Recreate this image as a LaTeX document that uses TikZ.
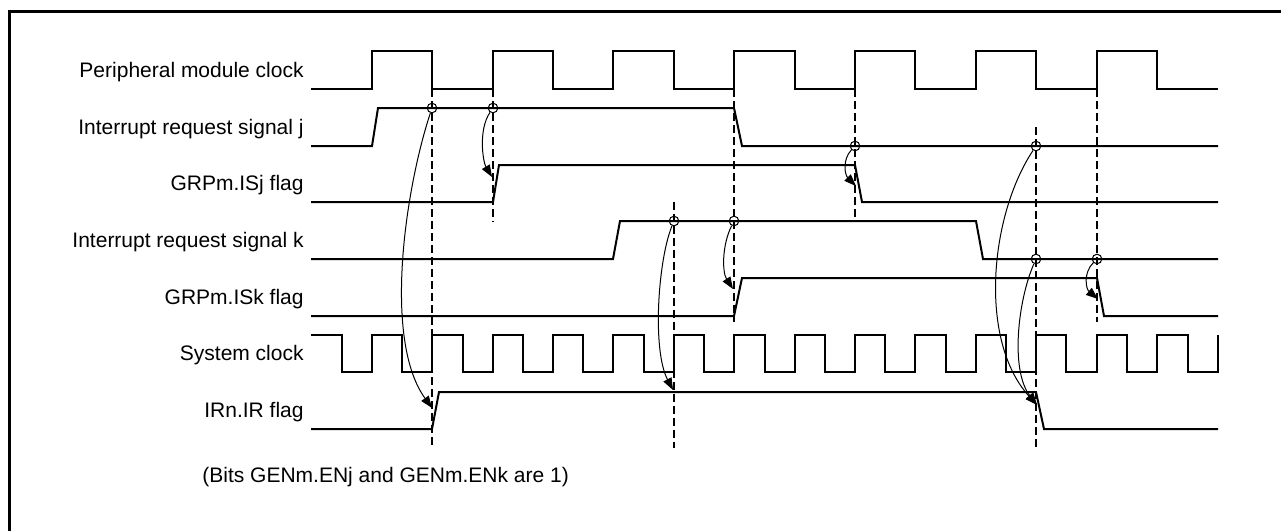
\documentclass[tikz,border=0pt]{standalone}
\usepackage{fontspec}
\setmainfont{Liberation Sans}
\usepackage{tikz}
\usetikzlibrary{arrows.meta,calc}
\tikzset{
  edgeline/.style={line width=1.5pt, line join=miter},
  sig/.style={line width=1pt, line join=miter},
  guide/.style={line width=1.1pt, dash pattern=on 4pt off 2pt},
  ring/.style={circle, draw, line width=0.5pt, minimum size=4.8pt, inner sep=0pt},
  cause/.style={line width=0.5pt, -{Triangle[length=6pt,width=4.5pt]}},
  lbl/.style={anchor=base east, inner sep=0pt, font=\fontsize{10.5}{12.6}\selectfont},
  note/.style={anchor=base west, inner sep=0pt, font=\fontsize{10.5}{12.6}\selectfont},
}

\begin{document}
\begin{tikzpicture}[x=0.5pt, y=-0.5pt]
    \useasboundingbox (0,0) rectangle (1281,531);
    \draw[edgeline] (9.5,531) -- (9.5,11.3) -- (1281,11.3);

    % signal names
    \node[lbl] (pclk) at (304,77)  {Peripheral module clock};
    \node[lbl] (irqj) at (304,134) {Interrupt request signal j};
    \node[lbl] (isj)  at (304,190) {GRPm.ISj flag};
    \node[lbl] (irqk) at (304,247) {Interrupt request signal k};
    \node[lbl] (isk)  at (304,304) {GRPm.ISk flag};
    \node[lbl] (sclk) at (304,360) {System clock};
    \node[lbl] (irf)  at (304,417) {IRn.IR flag};
    \node[note] (bits) at (202,482) {(Bits GENm.ENj and GENm.ENk are 1)};

    % waveforms
    \draw[sig] (311,89) -| (372,51) -| (432,89) -| (493,51) -| (553,89) -| (613,51) -| (674,89) -| (734,51)
      -| (795,89) -| (855,51) -| (915,89) -| (976,51) -| (1036,89) -| (1097,51) -| (1157,89) -- (1218,89);
    \draw[sig] (311,146) -- (372,146) -- (378,108) -- (734,108) -- (742,146) -- (1218,146);
    \draw[sig] (311,202) -- (493,202) -- (499,165) -- (855,165) -- (862,202) -- (1218,202);
    \draw[sig] (311,259) -- (613,259) -- (620,221) -- (976,221) -- (983,259) -- (1218,259);
    \draw[sig] (311,316) -- (734,316) -- (742,278) -- (1097,278) -- (1104,316) -- (1218,316);
    \draw[sig] (311,335) -| (342,372) -| (372,335) -| (402,372) -| (432,335) -| (463,372) -| (493,335)
      -| (523,372) -| (553,335) -| (583,372) -| (613,335) -| (644,372) -| (674,335) -| (704,372) -| (734,335)
      -| (765,372) -| (795,335) -| (825,372) -| (855,335) -| (885,372) -| (915,335) -| (946,372) -| (976,335)
      -| (1006,372) -| (1036,335) -| (1066,372) -| (1097,335) -| (1127,372) -| (1157,335) -| (1188,372) -| (1218,335);
    \draw[sig] (311,429) -- (432,429) -- (439,392) -- (1036,392) -- (1044,429) -- (1218,429);

    % sampling edges
    \draw[guide] (432,89) -- (432,448);
    \draw[guide] (493,89) -- (493,222);
    \draw[guide] (674,202) -- (674,448);
    \draw[guide] (734,89) -- (734,322);
    \draw[guide] (855,89) -- (855,222);
    \draw[guide] (1036,127) -- (1036,448);
    \draw[guide] (1097,89) -- (1097,322);

    % sample points and their effects
    \node[ring] (ja) at (432,108) {};
    \node[ring] (jb) at (493,108) {};
    \node[ring] (ka) at (674,221) {};
    \node[ring] (kb) at (734,221) {};
    \node[ring] (jc) at (855,146) {};
    \node[ring] (jd) at (1036,146) {};
    \node[ring] (kc) at (1036,259) {};
    \node[ring] (kd) at (1097,259) {};
    \coordinate (irUp) at (432,408);
    \coordinate (isjUp) at (492,177);
    \coordinate (irHold) at (673,390);
    \coordinate (iskUp) at (733,289);
    \coordinate (isjDown) at (856,186);
    \coordinate (irDown) at (1037,405);
    \coordinate (iskDown) at (1098,299);

    \draw[cause] (ja) .. controls +(-27,82) and +(-49,-68) .. (irUp);
    \draw[cause] (jb) .. controls +(-15,22) and +(-9,-15) .. (isjUp);
    \draw[cause] (ka) .. controls +(-16,39) and +(-21,-40) .. (irHold);
    \draw[cause] (kb) .. controls +(-12,24) and +(-11,-17) .. (iskUp);
    \draw[cause] (jc) .. controls +(-13,14) and +(-11,-11) .. (isjDown);
    \draw[cause] (jd) .. controls +(-46,69) and +(-59,-65) .. (irDown);
    \draw[cause] (kc) .. controls +(-18,41) and +(-27,-35) .. (irDown);
    \draw[cause] (kd) .. controls +(-14,14) and +(-12,-10) .. (iskDown);
\end{tikzpicture}
\end{document}
